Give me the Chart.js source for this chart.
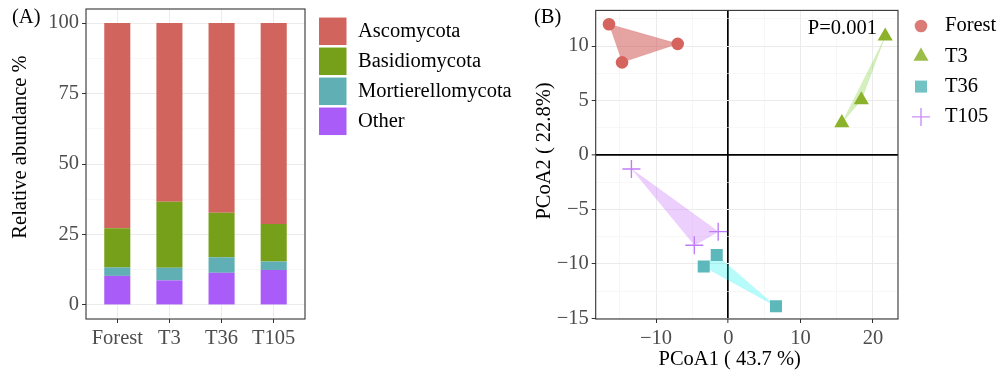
<!DOCTYPE html>
<html><head><meta charset="utf-8">
<script src="https://cdn.jsdelivr.net/npm/chart.js@4.4.1/dist/chart.umd.min.js"></script>
<style>
html,body{margin:0;padding:0;background:#fff;}
#wrap{position:relative;width:1000px;height:378px;overflow:hidden;}
.box{position:absolute;top:0;height:378px;}
</style></head><body>
<div id="wrap">
<div class="box" style="left:0;width:525px"><canvas id="cA"></canvas></div>
<div class="box" style="left:525px;width:475px"><canvas id="cB"></canvas></div>
</div>
<script>
// ---------- Panel A data ----------
const categories = ['Forest', 'T3', 'T36', 'T105'];
const phyla = ['Ascomycota', 'Basidiomycota', 'Mortierellomycota', 'Other'];
const ascomycota = [72.8, 63.4, 67.3, 71.3];
const basidiomycota = [13.9, 23.4, 15.8, 13.3];
const mortierellomycota = [3.0, 4.5, 5.5, 3.0];
const other = [10.3, 8.7, 11.4, 12.4];
const abundanceTicks = [0, 25, 50, 75, 100];
const abundanceMinor = [12.5, 37.5, 62.5, 87.5];

// ---------- Panel B data ----------
const groups = ['Forest', 'T3', 'T36', 'T105'];
const forestPC1 = [-16.5, -7.0, -14.7];
const forestPC2 = [12.0, 10.2, 8.5];
const t3PC1 = [21.7, 18.4, 15.7];
const t3PC2 = [10.9, 5.05, 2.95];
const t36PC1 = [-1.6, -3.4, 6.6];
const t36PC2 = [-9.2, -10.25, -13.9];
const t105PC1 = [-13.4, -1.4, -4.7];
const t105PC2 = [-1.3, -7.05, -8.3];
const pc1Ticks = [-10, 0, 10, 20];
const pc1Minor = [-15, -5, 5, 15];
const pc2Ticks = [-15, -10, -5, 0, 5, 10];
const pc2Minor = [-12.5, -7.5, -2.5, 2.5, 7.5, 12.5];
const pValueText = 'P=0.001';
const pcoa1Title = 'PCoA1 ( 43.7 %)';
const pcoa2Title = 'PCoA2 ( 22.8%)';
const abundanceTitle = 'Relative abundance %';

const SERIF = '"Liberation Serif", "Times New Roman", serif';
const FS = 20.5;
const fontStr = FS + 'px ' + SERIF;
const GRID_MAJOR = '#EBEBEB', GRID_MINOR = '#F2F2F2', AXIS_DARK = '#333333', TICK_TXT = '#4D4D4D';
const minus = v => (v < 0 ? '\u2212' + Math.abs(v) : String(v));

// ---------- helper plugins ----------
const panelBorder = {
  id: 'panelBorder',
  afterDatasetsDraw(chart) {
    const a = chart.chartArea, ctx = chart.ctx;
    ctx.save(); ctx.strokeStyle = AXIS_DARK; ctx.lineWidth = 1.1;
    ctx.strokeRect(a.left, a.top, a.right - a.left, a.bottom - a.top);
    ctx.restore();
  }
};
const refLegend = {
  id: 'refLegend',
  afterDraw(chart, args, opts) {
    if (!opts || !opts.labels) return;
    const {ctx, chartArea} = chart;
    ctx.save();
    ctx.font = fontStr; ctx.textBaseline = 'middle'; ctx.textAlign = 'left';
    opts.labels.forEach((label, i) => {
      const ds = chart.data.datasets.find(d => d.label === label && !d.hull);
      const x0 = chartArea.right + opts.markerX;
      const cy = opts.y0 + i * opts.dy;
      if (opts.kind === 'box') {
        ctx.fillStyle = ds.backgroundColor;
        ctx.fillRect(x0, cy - opts.box / 2, opts.box, opts.box);
      } else {
        ctx.save();
        ctx.globalAlpha = 0.85;
        ctx.fillStyle = ds.backgroundColor; ctx.strokeStyle = ds.borderColor; ctx.lineWidth = ds.borderWidth;
        Chart.helpers.drawPoint(ctx, {pointStyle: ds.pointStyle, radius: ds.pointRadius, rotation: 0, borderWidth: ds.borderWidth}, x0, cy);
        ctx.restore();
      }
      ctx.fillStyle = '#000';
      ctx.fillText(label, chartArea.right + opts.textX, cy);
    });
    ctx.restore();
  }
};
const refText = {
  id: 'refText',
  afterDraw(chart, args, opts) {
    if (!opts || !opts.items) return;
    const ctx = chart.ctx;
    opts.items.forEach(it => {
      let x = it.x, y = it.y;
      if (it.xv !== undefined) x = chart.scales.x.getPixelForValue(it.xv);
      if (it.yv !== undefined) y = chart.scales.y.getPixelForValue(it.yv);
      ctx.save();
      ctx.font = fontStr; ctx.fillStyle = '#000';
      ctx.textBaseline = 'middle'; ctx.textAlign = it.align || 'center';
      ctx.translate(x, y);
      if (it.rot) ctx.rotate(it.rot);
      ctx.fillText(it.text, 0, 0);
      ctx.restore();
    });
  }
};

function fixTicks(list) {
  return s => { s.ticks = list.map(v => ({value: v})); };
}

// ---------- Chart A ----------
const barColors = {Ascomycota: '#d1655e', Basidiomycota: '#77a01a', Mortierellomycota: '#5fafb4', Other: '#a95cf8'};
const barSeries = {Ascomycota: ascomycota, Basidiomycota: basidiomycota, Mortierellomycota: mortierellomycota, Other: other};
const stackOrder = phyla.slice().reverse(); // Other at the bottom
const aYAll = abundanceTicks.concat(abundanceMinor).sort((a, b) => a - b);

new Chart(document.getElementById('cA'), {
  type: 'bar',
  data: {
    datasets: stackOrder.map(p => ({
      label: p,
      data: categories.map((c, i) => ({x: i + 1, y: barSeries[p][i]})),
      backgroundColor: barColors[p],
      borderWidth: 0,
      barPercentage: 0.5,
      categoryPercentage: 1.0
    }))
  },
  options: {
    responsive: true, maintainAspectRatio: false, animation: false, events: [],
    layout: {padding: {top: 9, right: 220, left: 0, bottom: 0}},
    scales: {
      x: {
        type: 'linear', stacked: true, min: 0.4, max: 4.6, offset: false,
        afterBuildTicks: fixTicks(categories.map((c, i) => i + 1)),
        afterFit: s => { s.height = 59; s.paddingLeft = 0; s.paddingRight = 0; },
        grid: {offset: false, color: GRID_MAJOR, lineWidth: 1, tickColor: AXIS_DARK, tickLength: 4, tickWidth: 1},
        border: {display: false},
        ticks: {autoSkip: false, maxRotation: 0, padding: 3, color: TICK_TXT, font: {family: SERIF, size: FS},
          callback: v => categories[Math.round(v) - 1] || ''}
      },
      y: {
        type: 'linear', stacked: true, min: -5, max: 105,
        afterBuildTicks: fixTicks(aYAll),
        afterFit: s => { s.width = 86; s.paddingTop = 0; s.paddingBottom = 0; },
        grid: {
          color: c => abundanceTicks.includes(c.tick.value) ? GRID_MAJOR : GRID_MINOR,
          lineWidth: c => abundanceTicks.includes(c.tick.value) ? 1 : 0.6,
          tickColor: c => abundanceTicks.includes(c.tick.value) ? AXIS_DARK : 'rgba(0,0,0,0)',
          tickLength: 4, tickWidth: 1
        },
        border: {display: false},
        ticks: {autoSkip: false, padding: 3, color: TICK_TXT, font: {family: SERIF, size: FS},
          callback: v => abundanceTicks.includes(v) ? String(v) : ''}
      }
    },
    plugins: {
      legend: {display: false}, tooltip: {enabled: false},
      refLegend: {labels: phyla, kind: 'box', markerX: 14, textX: 53, y0: 31.3, dy: 30, box: 27.5},
      refText: {items: [
        {text: '(A)', x: 12, y: 17.5, align: 'left'},
        {text: abundanceTitle, x: 20.5, y: 147, rot: -Math.PI / 2}
      ]}
    }
  },
  plugins: [panelBorder, refLegend, refText]
});

// ---------- Chart B ----------
const pts = (xs, ys) => xs.map((x, i) => ({x: x, y: ys[i]}));
const groupData = {
  Forest: pts(forestPC1, forestPC2),
  T3: pts(t3PC1, t3PC2),
  T36: pts(t36PC1, t36PC2),
  T105: pts(t105PC1, t105PC2)
};
const groupStyle = {
  Forest: {pointStyle: 'circle', pointRadius: 6.3, backgroundColor: '#d4645d', borderColor: '#d4645d', borderWidth: 0, hullFill: 'rgba(208,90,85,0.55)'},
  T3: {pointStyle: 'triangle', pointRadius: 8.7, backgroundColor: '#8bb22a', borderColor: '#8bb22a', borderWidth: 0, hullFill: 'rgba(130,205,60,0.33)'},
  T36: {pointStyle: 'rect', pointRadius: 8.5, backgroundColor: '#5cb8ba', borderColor: '#5cb8ba', borderWidth: 0, hullFill: 'rgba(0,240,240,0.28)'},
  T105: {pointStyle: 'cross', pointRadius: 9, backgroundColor: '#c07cf8', borderColor: '#c07cf8', borderWidth: 1.4, hullFill: 'rgba(205,130,250,0.38)'}
};
const hullSets = groups.map(g => ({
  type: 'line', label: g, hull: true, data: groupData[g], order: 2,
  showLine: true, fill: 'shape', backgroundColor: groupStyle[g].hullFill,
  borderColor: groupStyle[g].hullFill, borderWidth: 0.5, pointRadius: 0, tension: 0
}));
const pointSets = groups.map(g => ({
  type: 'scatter', label: g, data: groupData[g], order: 1,
  pointStyle: groupStyle[g].pointStyle, pointRadius: groupStyle[g].pointRadius,
  backgroundColor: groupStyle[g].backgroundColor, borderColor: groupStyle[g].borderColor,
  borderWidth: groupStyle[g].borderWidth
}));
const bXAll = pc1Ticks.concat(pc1Minor).sort((a, b) => a - b);
const bYAll = pc2Ticks.concat(pc2Minor).sort((a, b) => a - b);
const gridB = majors => ({
  color: c => c.tick.value === 0 ? '#000' : (majors.includes(c.tick.value) ? GRID_MAJOR : GRID_MINOR),
  lineWidth: c => c.tick.value === 0 ? 1.7 : (majors.includes(c.tick.value) ? 1 : 0.6),
  tickColor: c => majors.includes(c.tick.value) ? AXIS_DARK : 'rgba(0,0,0,0)',
  tickLength: 4, tickWidth: 1
});

new Chart(document.getElementById('cB'), {
  type: 'scatter',
  data: {datasets: pointSets.concat(hullSets)},
  options: {
    responsive: true, maintainAspectRatio: false, animation: false, events: [],
    layout: {padding: {top: 9, right: 102, left: 0, bottom: 0}},
    scales: {
      x: {
        type: 'linear', min: -18.34, max: 23.47,
        afterBuildTicks: fixTicks(bXAll),
        afterFit: s => { s.height = 59; s.paddingLeft = 0; s.paddingRight = 0; },
        grid: gridB(pc1Ticks), border: {display: false},
        ticks: {autoSkip: false, maxRotation: 0, padding: 3, color: TICK_TXT, font: {family: SERIF, size: FS},
          callback: v => pc1Ticks.includes(v) ? minus(v) : ''}
      },
      y: {
        type: 'linear', min: -15.07, max: 13.27,
        afterBuildTicks: fixTicks(bYAll),
        afterFit: s => { s.width = 70.7; s.paddingTop = 0; s.paddingBottom = 0; },
        grid: gridB(pc2Ticks), border: {display: false},
        ticks: {autoSkip: false, padding: 3, color: TICK_TXT, font: {family: SERIF, size: FS},
          callback: v => pc2Ticks.includes(v) ? minus(v) : ''}
      }
    },
    plugins: {
      legend: {display: false}, tooltip: {enabled: false},
      refLegend: {labels: groups, kind: 'point', markerX: 23, textX: 47, y0: 26, dy: 30.3},
      refText: {items: [
        {text: '(B)', x: 9, y: 17.5, align: 'left'},
        {text: pcoa2Title, x: 19.7, y: 151, rot: -Math.PI / 2},
        {text: pcoa1Title, x: 204.7, y: 359.5},
        {text: pValueText, xv: 20.55, yv: 11.6, align: 'right'}
      ]}
    }
  },
  plugins: [panelBorder, refLegend, refText]
});
</script>
</body></html>
